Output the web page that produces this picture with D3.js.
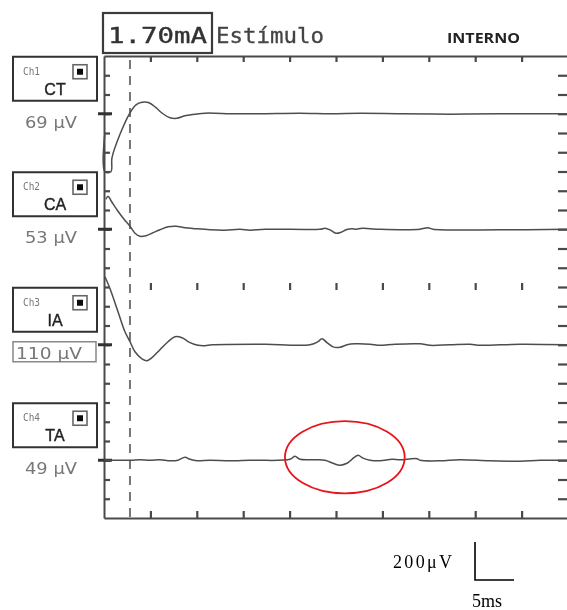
<!DOCTYPE html>
<html>
<head>
<meta charset="utf-8">
<script src="https://cdn.jsdelivr.net/npm/d3@7/dist/d3.min.js"></script>
<style>
  html, body { margin: 0; padding: 0; background: #fff; }
  svg { display: block; }
</style>
</head>
<body>
<script>
// Channel definitions
const channels = ["Ch1", "Ch2", "Ch3", "Ch4"];
const muscles = ["CT", "CA", "IA", "TA"];
const amplitudes = ["69 μV", "53 μV", "110 μV", "49 μV"];
const channelRow = [3, 9, 15, 21]; // baseline row on the 24-division vertical grid

// Traces: [time (ms), amplitude (μV)]
const traceCT = [
  [0.1, -100], [0.1, -305], [0.75, -305], [0.86, -232], [1.7, -111], [2.8, 5],
  [3.45, 47], [4.1, 60], [4.85, 58], [5.6, 32], [6.35, 0], [7.1, -21], [7.85, -24],
  [8.7, -11], [9.8, -3], [10.9, 3], [12.0, 3], [13.6, 0], [16.8, 0], [21.1, 3],
  [24.4, 0], [27.6, 2], [31.9, 0], [37.3, -2], [42.7, 0], [49.9, 0]
];
const traceCA = [
  [0.22, 158], [0.43, 174], [0.86, 142], [1.51, 95], [2.16, 53], [2.8, 16],
  [3.34, -21], [3.88, -37], [4.53, -34], [5.17, -21], [6.03, -3], [6.9, 13],
  [7.76, 16], [8.73, 8], [9.81, 3], [11.42, -3], [13.04, -5], [14.66, 0],
  [15.73, -5], [17.35, 0], [23.28, 0], [23.81, 5], [24.35, -3], [25.0, -21],
  [25.54, -16], [26.08, -3], [26.72, 3], [27.16, 0], [27.8, 5], [28.66, 3],
  [29.74, 0], [34.05, 0], [34.91, 8], [35.45, 0], [42.67, -3], [49.9, 0]
];
const traceIA = [
  [0.11, 358], [0.65, 295], [1.51, 174], [2.26, 68], [2.8, 16], [3.34, -37],
  [4.09, -74], [4.63, -84], [5.17, -68], [6.03, -26], [6.9, 16], [7.65, 42],
  [8.41, 37], [9.27, 11], [10.13, -3], [10.88, -5], [11.64, 0], [16.81, 3],
  [22.2, 0], [23.06, 16], [23.49, 32], [24.03, 11], [24.68, -11], [25.43, -13],
  [26.19, 0], [27.05, 5], [28.66, 3], [29.74, -3], [31.36, 3], [34.05, 5],
  [35.13, -3], [37.28, 0], [39.44, 3], [40.52, -3], [44.83, 3], [49.9, 0]
];
const traceTA = [
  [0, 0], [2.8, 0], [3.88, 3], [4.96, 0], [6.03, 3], [7.11, -3], [7.97, 0],
  [8.73, 16], [9.27, 5], [10.02, -3], [11.42, 0], [13.58, -3], [15.73, 0],
  [20.04, 5], [20.58, 21], [21.12, 5], [22.74, 3], [23.81, 0], [24.68, -16],
  [25.43, -26], [26.19, -16], [26.72, 5], [27.37, 26], [27.91, 11], [28.66, 0],
  [29.74, -3], [31.03, 5], [31.9, 3], [33.73, 8], [34.05, 0], [36.21, -3],
  [38.36, 3], [41.59, -3], [44.83, -5], [47.0, 0], [49.9, 0]
];
const traces = [traceCT, traceCA, traceIA, traceTA];

// Time grid and stimulus marker
const timeTicks = [5, 10, 15, 20, 25, 30, 35, 40, 45];
const stimulusMs = 2.8;

// Highlighted response window on TA: [start ms, end ms], centre μV, half-height μV
const highlightTA = { t0: 19.5, t1: 32.4, centre: 16, half: 190 };

// Calibration bar
const calibAmp = 200;   // μV
const calibTime = 5;    // ms

const W = 567, H = 610;
const svg = d3.select("body").append("svg").attr("width", W).attr("height", H);

const defs = svg.append("defs");
defs.append("filter").attr("id", "soft")
  .append("feGaussianBlur").attr("stdDeviation", 0.45);

const x = d3.scaleLinear().domain([0, 50]).range([104, 568]);
const grid = d3.scaleLinear().domain([0, 24]).range([56, 518]);
const amp = d3.scaleLinear().domain([0, 200]).range([0, -38]);
const yOf = (i, v) => grid(channelRow[i]) + amp(v);

const scope = svg.append("g").attr("filter", "url(#soft)");
const axisColor = "#4a4a4a";

// Header
scope.append("rect").attr("x", 103).attr("y", 13).attr("width", 109).attr("height", 40)
  .attr("fill", "none").attr("stroke", "#3a3a3a").attr("stroke-width", 2.2);
scope.append("text").attr("x", 108).attr("y", 43).text("1.70mA")
  .attr("font-family", "DejaVu Sans Mono").attr("font-size", 22)
  .attr("stroke", "#333").attr("stroke-width", 0.4)
  .attr("textLength", 99).attr("lengthAdjust", "spacingAndGlyphs").attr("fill", "#333");
scope.append("text").attr("x", 216).attr("y", 43).text("Estímulo")
  .attr("font-family", "DejaVu Sans Mono").attr("font-size", 21)
  .attr("stroke", "#444").attr("stroke-width", 0.3)
  .attr("textLength", 108).attr("lengthAdjust", "spacingAndGlyphs").attr("fill", "#444");
scope.append("text").attr("x", 447).attr("y", 43).text("INTERNO")
  .attr("font-family", "Open Sans").attr("font-weight", "bold").attr("font-size", 14)
  .attr("textLength", 73).attr("lengthAdjust", "spacingAndGlyphs").attr("fill", "#222");

// Axes
function styleAxis(g) {
  g.selectAll("path.domain").attr("stroke", axisColor).attr("stroke-width", 2);
  g.selectAll(".tick line").attr("stroke", axisColor).attr("stroke-width", 2.2);
  g.selectAll(".tick text").remove();
}
scope.append("g").attr("transform", `translate(0,${grid(0)})`)
  .call(d3.axisBottom(x).tickValues(timeTicks).tickSize(6).tickSizeOuter(0).tickFormat(""))
  .call(styleAxis);
scope.append("g").attr("transform", `translate(0,${grid(24)})`)
  .call(d3.axisTop(x).tickValues(timeTicks).tickSize(7).tickSizeOuter(0).tickFormat(""))
  .call(styleAxis);
// middle row of time ticks
scope.append("g").attr("transform", `translate(0,${grid(12) - 4})`)
  .call(d3.axisBottom(x).tickValues(timeTicks).tickSize(7).tickSizeOuter(0).tickFormat(""))
  .call(styleAxis)
  .call(g => g.select("path.domain").remove());

const rows = d3.range(1, 24);
scope.append("g").attr("transform", `translate(${x(0)},0)`)
  .call(d3.axisRight(grid).tickValues(rows).tickSize(6).tickSizeOuter(0).tickFormat(""))
  .call(styleAxis);
scope.append("g").attr("transform", `translate(${W},0)`)
  .call(d3.axisLeft(grid).tickValues(rows).tickSize(9).tickSizeOuter(0).tickFormat(""))
  .call(styleAxis)
  .call(g => g.select("path.domain").remove());

// Baseline markers on the left edge
scope.append("g").selectAll("line").data(channelRow).join("line")
  .attr("x1", x(0) - 6).attr("x2", x(0) + 8)
  .attr("y1", d => grid(d)).attr("y2", d => grid(d))
  .attr("stroke", "#333").attr("stroke-width", 3);

// Stimulus cursor
scope.append("line")
  .attr("x1", x(stimulusMs)).attr("x2", x(stimulusMs))
  .attr("y1", grid(0) + 4).attr("y2", grid(24))
  .attr("stroke", "#555").attr("stroke-width", 1.6).attr("stroke-dasharray", "9,7");

// Traces
const line = d3.line().curve(d3.curveCatmullRom.alpha(0.5));
traces.forEach((tr, i) => {
  scope.append("path")
    .attr("d", line(tr.map(d => [x(d[0]), yOf(i, d[1])])))
    .attr("fill", "none").attr("stroke", "#4d4d4d").attr("stroke-width", 1.5);
});

// Channel labels
channels.forEach((ch, i) => {
  const b = grid(channelRow[i]);
  const g = scope.append("g");
  g.append("rect").attr("x", 13).attr("y", b - 57).attr("width", 84).attr("height", 44)
    .attr("fill", "#fff").attr("stroke", "#333").attr("stroke-width", 2);
  g.append("text").attr("x", 23).attr("y", b - 39).text(ch)
    .attr("font-family", "DejaVu Sans Mono").attr("font-size", 11)
    .attr("textLength", 17).attr("lengthAdjust", "spacingAndGlyphs").attr("fill", "#777");
  g.append("text").attr("x", 55).attr("y", b - 19).text(muscles[i])
    .attr("text-anchor", "middle")
    .attr("font-family", "Liberation Sans").attr("font-size", 16)
    .attr("stroke", "#222").attr("stroke-width", 0.4).attr("fill", "#222");
  g.append("rect").attr("x", 73).attr("y", b - 49).attr("width", 14).attr("height", 14)
    .attr("fill", "#fff").attr("stroke", "#666").attr("stroke-width", 1.6);
  g.append("rect").attr("x", 77).attr("y", b - 45).attr("width", 6).attr("height", 6)
    .attr("fill", "#111");
  if (i === 2) {
    g.append("rect").attr("x", 13).attr("y", b - 3).attr("width", 83).attr("height", 20)
      .attr("fill", "#fff").attr("stroke", "#888").attr("stroke-width", 1.5);
    g.append("text").attr("x", 16).attr("y", b + 14).text(amplitudes[i])
      .attr("font-family", "DejaVu Sans").attr("font-size", 15)
      .attr("textLength", 66).attr("lengthAdjust", "spacingAndGlyphs").attr("fill", "#777");
  } else {
    g.append("text").attr("x", 25).attr("y", b + 14).text(amplitudes[i])
      .attr("font-family", "DejaVu Sans").attr("font-size", 15)
      .attr("textLength", 52).attr("lengthAdjust", "spacingAndGlyphs").attr("fill", "#777");
  }
});

// Highlighted response on TA
const hx0 = x(highlightTA.t0), hx1 = x(highlightTA.t1);
svg.append("ellipse")
  .attr("cx", (hx0 + hx1) / 2).attr("cy", yOf(3, highlightTA.centre))
  .attr("rx", (hx1 - hx0) / 2).attr("ry", -amp(highlightTA.half))
  .attr("fill", "none").attr("stroke", "#e8141b").attr("stroke-width", 1.8);

// Calibration bar
const barX = 475, barY = 580;
const timeBar = 39 / calibTime; // px per ms on the calibration bar
svg.append("path")
  .attr("d", `M${barX},${barY + amp(calibAmp)}V${barY}H${barX + timeBar * calibTime}`)
  .attr("fill", "none").attr("stroke", "#000").attr("stroke-width", 1.6);
svg.append("text").attr("x", 393).attr("y", 568).text(calibAmp + "μV")
  .attr("font-family", "Liberation Serif").attr("font-size", 18)
  .attr("textLength", 59).attr("lengthAdjust", "spacing").attr("fill", "#000");
svg.append("text").attr("x", 472).attr("y", 607).text(calibTime + "ms")
  .attr("font-family", "Liberation Serif").attr("font-size", 18).attr("fill", "#000");
</script>
</body>
</html>
